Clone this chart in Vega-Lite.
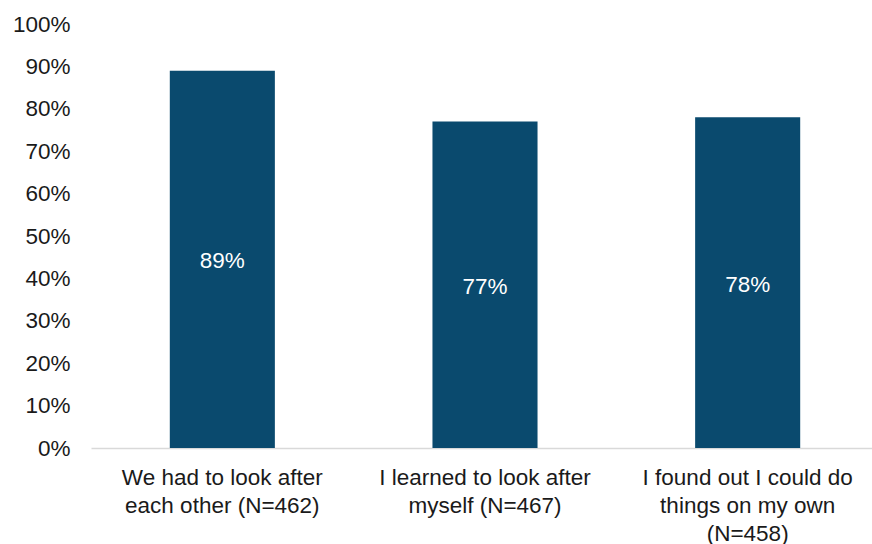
{
  "$schema": "https://vega.github.io/schema/vega-lite/v6.json",
  "width": 788,
  "height": 424,
  "autosize": {"type": "none"},
  "padding": {"left": 91, "top": 24, "right": 0, "bottom": 96},
  "background": "white",
  "config": {
    "view": {"stroke": null},
    "font": "Liberation Sans"
  },
  "data": {
    "values": [
      {"statement": "We had to look after|each other (N=462)", "share": 0.89},
      {"statement": "I learned to look after|myself (N=467)", "share": 0.77},
      {"statement": "I found out I could do|things on my own|(N=458)", "share": 0.78}
    ]
  },
  "encoding": {
    "x": {
      "field": "statement",
      "type": "nominal",
      "sort": null,
      "scale": {"paddingInner": 0.6, "paddingOuter": 0.3},
      "axis": {
        "title": null,
        "labelAngle": 0,
        "labelExpr": "split(datum.value, '|')",
        "labelFont": "Liberation Sans",
        "labelFontSize": 22.5,
        "labelColor": "#1a1a1a",
        "labelLineHeight": 28,
        "labelPadding": 18,
        "labelLimit": 400,
        "ticks": false,
        "domainColor": "#d9d9d9",
        "domainWidth": 1.5
      }
    }
  },
  "layer": [
    {
      "mark": {"type": "bar", "color": "#0a4a6e"},
      "encoding": {
        "y": {
          "field": "share",
          "type": "quantitative",
          "scale": {"domain": [0, 1], "nice": false},
          "axis": {
            "title": null,
            "format": ".0%",
            "values": [0, 0.1, 0.2, 0.3, 0.4, 0.5, 0.6, 0.7, 0.8, 0.9, 1],
            "grid": false,
            "domain": false,
            "ticks": false,
            "labelFont": "Liberation Sans",
            "labelFontSize": 22.5,
            "labelColor": "#1a1a1a",
            "labelPadding": 21
          }
        }
      }
    },
    {
      "transform": [{"calculate": "datum.share / 2", "as": "mid"}],
      "mark": {"type": "text", "color": "white", "fontSize": 22.5, "font": "Liberation Sans", "baseline": "middle", "dy": 2},
      "encoding": {
        "y": {"field": "mid", "type": "quantitative"},
        "text": {"field": "share", "type": "quantitative", "format": ".0%"}
      }
    }
  ]
}
